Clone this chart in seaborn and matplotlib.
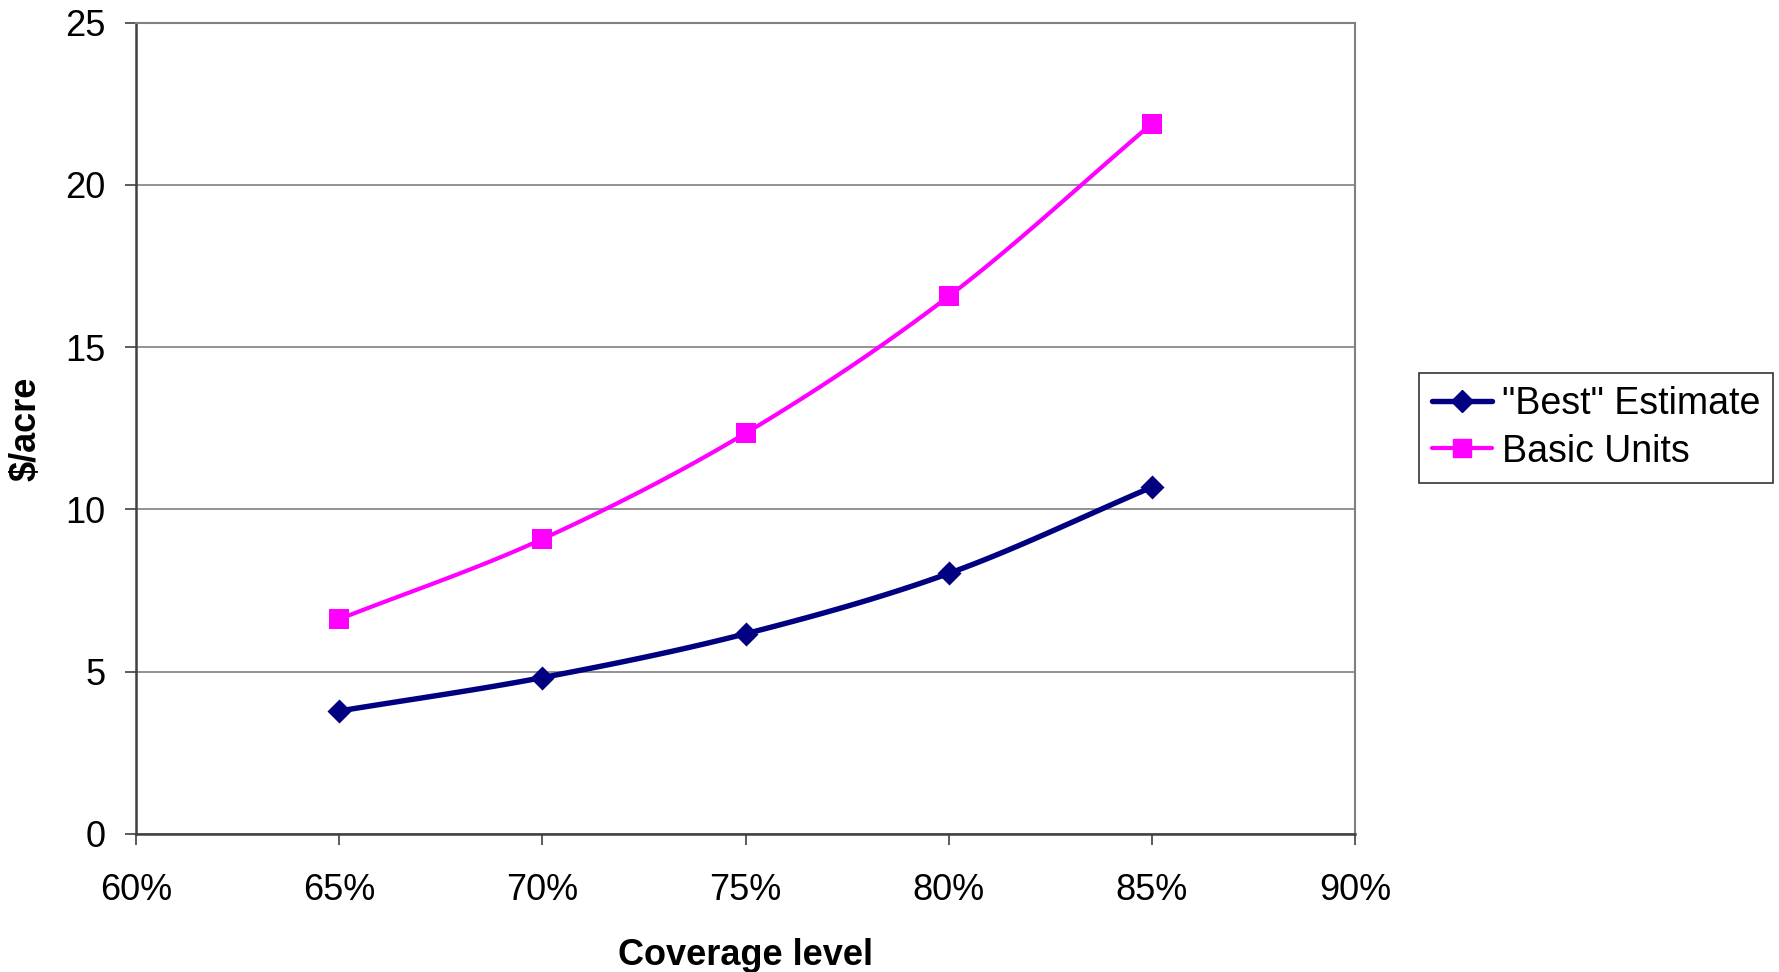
import numpy as np
import pandas as pd
import matplotlib
matplotlib.use("Agg")
import matplotlib.pyplot as plt
import seaborn as sns

coverage = [0.65, 0.70, 0.75, 0.80, 0.85]
best_estimate = [3.79, 4.82, 6.17, 8.03, 10.69]
basic_units = [6.62, 9.09, 12.35, 16.57, 21.89]
series_names = ['"Best" Estimate', 'Basic Units']
series_colors = ["#000080", "#FF00FF"]
series_markers = ["D", "s"]
x_ticks = [0.60, 0.65, 0.70, 0.75, 0.80, 0.85, 0.90]
y_ticks = [0, 5, 10, 15, 20, 25]

sns.set_theme(style="white")
plt.rcParams["font.family"] = ["Liberation Sans", "DejaVu Sans"]
plt.rcParams["text.color"] = "black"
plt.rcParams["axes.labelcolor"] = "black"
plt.rcParams["xtick.color"] = "black"
plt.rcParams["ytick.color"] = "black"

fig = plt.figure(figsize=(17.79, 9.72), dpi=100)
ax = fig.add_axes([0.0765, 0.142, 0.7617 - 0.0765, 0.9766 - 0.142])


def smooth(xs, ys, n=30):
    # Catmull-Rom smoothing (rendering of Excel's smoothed line)
    xs = np.asarray(xs, float); ys = np.asarray(ys, float)
    px = np.concatenate([[2 * xs[0] - xs[1]], xs, [2 * xs[-1] - xs[-2]]])
    py = np.concatenate([[2 * ys[0] - ys[1]], ys, [2 * ys[-1] - ys[-2]]])
    ox, oy = [], []
    t = np.linspace(0, 1, n)
    h00 = 2 * t**3 - 3 * t**2 + 1
    h10 = t**3 - 2 * t**2 + t
    h01 = -2 * t**3 + 3 * t**2
    h11 = t**3 - t**2
    for i in range(1, len(px) - 2):
        for arr, out in ((px, ox), (py, oy)):
            p0, p1, p2, p3 = arr[i - 1], arr[i], arr[i + 1], arr[i + 2]
            m1 = (p2 - p0) / 2
            m2 = (p3 - p1) / 2
            out.extend(h00 * p1 + h10 * m1 + h01 * p2 + h11 * m2)
    return np.array(ox), np.array(oy)


handles = []
for name, vals, col, mk, lw in zip(series_names, [best_estimate, basic_units],
                                   series_colors, series_markers, [3.9, 3.0]):
    sx, sy = smooth(coverage, vals)
    sns.lineplot(x=sx, y=sy, ax=ax, color=col, linewidth=lw, sort=False)
    df = pd.DataFrame({"x": coverage, "y": vals})
    sns.scatterplot(data=df, x="x", y="y", ax=ax, color=col, marker=mk,
                    s=190 if mk == "s" else 150, edgecolor=col, linewidth=0, zorder=5)
    h, = ax.plot([], [], color=col, linewidth=lw, marker=mk,
                 markersize=13 if mk == "s" else 11, label=name)
    handles.append(h)

if ax.get_legend() is not None:
    ax.get_legend().remove()

ax.set_xlim(0.60, 0.90)
ax.set_ylim(0, 25)
ax.set_xticks(x_ticks)
ax.set_xticklabels([f"{int(round(v * 100))}%" for v in x_ticks])
ax.set_yticks(y_ticks)
ax.yaxis.grid(True, color="#808080", linewidth=1.2)
ax.xaxis.grid(False)

for side in ["top", "right"]:
    ax.spines[side].set_visible(True)
    ax.spines[side].set_color("#808080")
    ax.spines[side].set_linewidth(1.5)
for side in ["left", "bottom"]:
    ax.spines[side].set_color("#404040")
    ax.spines[side].set_linewidth(1.8)

ax.tick_params(axis="both", which="major", labelsize=26, length=8, width=1.2,
               color="#404040", direction="out", bottom=True, left=True)
ax.tick_params(axis="x", pad=20)
ax.tick_params(axis="y", pad=14)
ax.set_xlabel("Coverage level", fontsize=26, fontweight="bold", labelpad=22)
ax.set_ylabel("$/acre", fontsize=26, fontweight="bold",
              family=["Liberation Sans Narrow", "Liberation Sans", "DejaVu Sans"])
ax.yaxis.set_label_coords(-0.076, 0.5)

leg = fig.legend(handles=handles, loc="center left",
                 bbox_to_anchor=(1419 / 1779, 1 - 428 / 972),
                 fontsize=27, frameon=True, fancybox=False, handlelength=1.6,
                 handletextpad=0.25, borderpad=0.35, labelspacing=0.3,
                 borderaxespad=0)
leg.get_frame().set_edgecolor("#000000")
leg.get_frame().set_linewidth(1.2)

fig.savefig("out.png", dpi=100, facecolor="white")
